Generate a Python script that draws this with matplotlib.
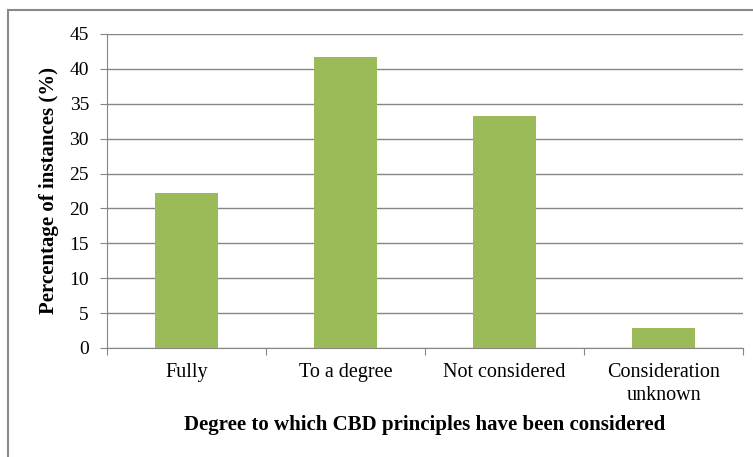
import matplotlib
matplotlib.use("Agg")
import matplotlib.pyplot as plt
from matplotlib.patches import Rectangle

categories = ["Fully", "To a degree", "Not considered", "Consideration\nunknown"]
values = [22.2, 41.7, 33.3, 2.8]
yticks = [0, 5, 10, 15, 20, 25, 30, 35, 40, 45]

plt.rcParams["font.family"] = ["Liberation Serif", "DejaVu Serif"]

W, H = 753, 457
fig = plt.figure(figsize=(W / 100, H / 100), dpi=100)

# chart frame
fig.add_artist(Rectangle((8 / W, -0.1), 1.2, (H - 10) / H + 0.1, transform=fig.transFigure,
                         fill=False, edgecolor="#898989", linewidth=1.5))

ax = fig.add_axes([107 / W, 1 - 348 / H, (743 - 107) / W, (348 - 34) / H])
x = list(range(len(categories)))
ax.bar(x, values, width=0.4, color="#9BBB59", zorder=3)

ax.set_xlim(-0.5, len(categories) - 0.5)
ax.set_ylim(0, 45)
ax.set_yticks(yticks)
ax.set_yticklabels([str(v) for v in yticks], fontsize=14)
ax.yaxis.grid(True, color="#868686", linewidth=1, zorder=0)

ax.set_xticks([i - 0.5 for i in range(len(categories) + 1)], minor=False)
ax.set_xticklabels([])
ax.set_xticks(x, minor=True)
ax.set_xticklabels(categories, minor=True, fontsize=14.5, linespacing=1.25)
ax.tick_params(axis="x", which="minor", length=0, pad=11)
ax.tick_params(axis="x", which="major", length=5, color="#868686", direction="out")
ax.tick_params(axis="y", length=5, color="#868686", pad=8)

for side in ("top", "right"):
    ax.spines[side].set_visible(False)
ax.spines["left"].set_color("#868686")
ax.spines["bottom"].set_color("#868686")

ax.set_ylabel("Percentage of instances (%)", fontsize=15, fontweight="bold", va="center")
ax.yaxis.set_label_coords((49 - 107) / 636, 0.5)
ax.set_xlabel("Degree to which CBD principles have been considered", fontsize=15,
              fontweight="bold", va="center")
ax.xaxis.set_label_coords(0.5, -(425 - 348) / 314)

fig.savefig("out.png", dpi=100)
